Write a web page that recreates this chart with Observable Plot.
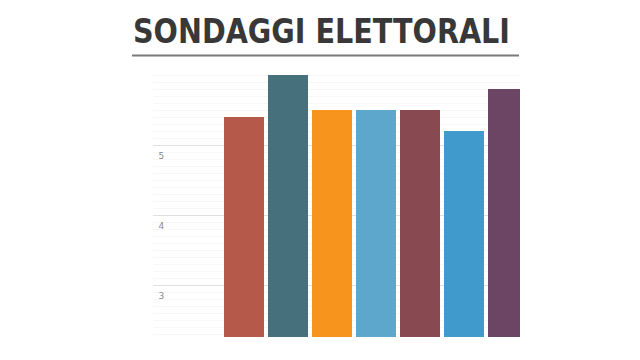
<!DOCTYPE html>
<html>
<head>
<meta charset="utf-8">
<script src="https://cdn.jsdelivr.net/npm/d3@7"></script>
<script src="https://cdn.jsdelivr.net/npm/@observablehq/plot@0.6"></script>
<style>
  html, body { margin: 0; padding: 0; background: #fff; }
  #wrap { width: 640px; height: 360px; position: relative; overflow: hidden; }
  #title { display: block; }
  #chart svg { display: block; }
</style>
</head>
<body>
<div id="wrap">
  <svg id="title" width="640" height="60">
    <text x="133" y="43" textLength="377" lengthAdjust="spacingAndGlyphs"
      font-family="DejaVu Sans Condensed, DejaVu Sans" font-weight="bold" font-size="34" fill="#383838">SONDAGGI ELETTORALI</text>
    <line x1="132" x2="519" y1="55.5" y2="55.5" stroke="#7a7a7a" stroke-width="2"></line>
  </svg>
  <div id="chart"></div>
</div>
<script>
const parties = ["1", "2", "3", "4", "5", "6", "7"];
const values = [5.4, 6.0, 5.5, 5.5, 5.5, 5.2, 5.8];
const colors = ["#b55a4b", "#47707d", "#f7941d", "#5ea7cc", "#884a50", "#409bcc", "#6b4563"];
const yTicks = [3, 4, 5];
const minorTicks = [2.3, 2.4, 2.5, 2.6, 2.7, 2.8, 2.9, 3.1, 3.2, 3.3, 3.4, 3.5, 3.6, 3.7, 3.8, 3.9,
  4.1, 4.2, 4.3, 4.4, 4.5, 4.6, 4.7, 4.8, 4.9, 5.1, 5.2, 5.3, 5.4, 5.5, 5.6, 5.7, 5.8, 5.9, 6.0];

const data = parties.map((p, i) => ({party: p, value: values[i]}));

const chart = Plot.plot({
  width: 640,
  height: 300,
  marginLeft: 153,
  marginRight: 120,
  marginTop: 15,
  marginBottom: 23,
  style: {background: "transparent"},
  x: {domain: parties, range: [224, 530], paddingInner: 0.08, paddingOuter: 0, align: 0, axis: null},
  y: {domain: [2.257, 6.0], axis: null},
  color: {domain: parties, range: colors},
  marks: [
    Plot.ruleY(minorTicks, {stroke: "#f7f7f7", strokeWidth: 1}),
    Plot.ruleY(yTicks, {stroke: "#e0e0e0", strokeWidth: 1}),
    Plot.axisY(yTicks, {
      tickSize: 0, tickPadding: 0, textAnchor: "start", dx: 5, dy: 11,
      tickFormat: d => String(d), label: null,
      fontSize: 9, fill: "#8a8a8a", fontFamily: "DejaVu Sans"
    }),
    Plot.barY(data, {x: "party", y1: 2.257, y2: "value", fill: "party", clip: true})
  ]
});
document.getElementById("chart").appendChild(chart);
</script>
</body>
</html>
